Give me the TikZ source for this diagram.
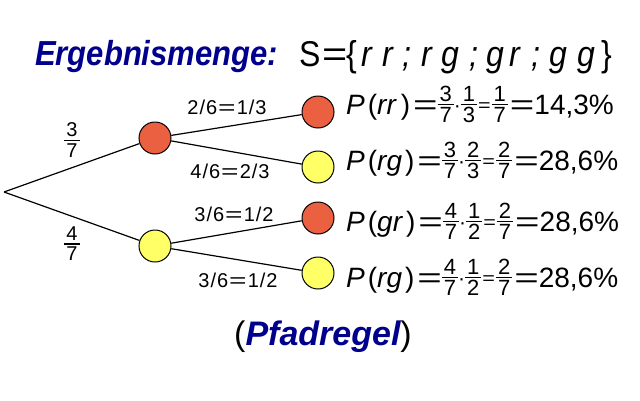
\documentclass[tikz,border=0pt]{standalone}
\usepackage{graphicx}
\usepackage{fontspec}
\setmainfont{Liberation Sans}
\definecolor{rball}{HTML}{EB6040}
\definecolor{yball}{HTML}{FFFF66}
\definecolor{navy}{HTML}{00008C}
% stacked fraction: size, rule thickness, numerator, denominator
\newcommand\frc[4]{\begingroup\fontsize{#1}{#1}\selectfont\vbox{\offinterlineskip\halign{\hfil##\hfil\cr\hspace{2pt}#3\hspace{2pt}\cr\noalign{\kern2.5pt\hrule height #2\kern2.5pt}#4\cr}}\endgroup}
\newcommand\pf[2]{\raisebox{-8.8pt}{\frc{22}{0.8pt}{#1}{#2}}}
\newcommand\ef[2]{\frc{20}{1.3pt}{#1}{#2}}
\newcommand\bigeq{\scalebox{1.5}[1]{=}}
\newcommand\smalleq{\raisebox{3pt}{\fontsize{18}{18}\selectfont\scalebox{1.2}[1]{=}}}
\newcommand\mdot{\raisebox{1.5pt}{\fontsize{21}{21}\selectfont·}}
\newcommand\mysl{\hspace{1pt}/\hspace{1pt}}
\newcommand\cb[2]{\makebox[#1pt][l]{#2}}
\tikzset{
  ball/.style={circle,draw=black,line width=1pt,minimum size=32pt,inner sep=0pt},
  red ball/.style={ball,fill=rball},
  yel ball/.style={ball,fill=yball},
  branch/.style={line width=1.2pt},
  elabel/.style={font=\fontsize{20}{22}\selectfont,inner sep=0pt},
  formula/.style={anchor=base west,inner sep=0pt,font=\fontsize{28}{30}\selectfont},
  every node/.style={inner sep=0pt}
}
\begin{document}
\begin{tikzpicture}[x=1pt,y=-1pt]
\useasboundingbox (0,0) rectangle (640,400);
% title
\node[anchor=base west,font=\fontsize{31}{36}\selectfont\bfseries\itshape,text=navy] (title) at (35,65) {\scalebox{1}[1.12]{Ergebnismenge:}};
\node[anchor=base west,font=\fontsize{32}{36}\selectfont] (set) at (299,66) {\scalebox{1}[1.12]{\cb{23}{S}\cb{24}{\scalebox{1.35}[1]{=}}\cb{15}{\{}\itshape\cb{21}{r}\cb{20}{r}\cb{19}{;}\cb{20}{r}\cb{28}{g}\cb{17}{;}\cb{23}{g}\cb{22}{r}\cb{18}{;}\cb{28}{g}\cb{24}{g}\upshape\}}};
% tree
\coordinate (root) at (4,192);
\node[red ball] (r1) at (155,138) {};
\node[yel ball] (g1) at (155,246) {};
\node[red ball] (rr) at (318,112) {};
\node[yel ball] (rg) at (318,167) {};
\node[red ball] (gr) at (318,218) {};
\node[yel ball] (gg) at (318,273) {};
\draw[branch] (root) -- (r1);
\draw[branch] (root) -- (g1);
\draw[branch] (r1) -- (rr);
\draw[branch] (r1) -- (rg);
\draw[branch] (g1) -- (gr);
\draw[branch] (g1) -- (gg);
% edge labels
\node[elabel] (l1) at (72,140) {\ef37};
\node[elabel] (l2) at (72,244) {\ef47};
\node[elabel] (l3) at (227,107) {2\mysl6\hspace{1pt}\bigeq\hspace{1pt}1\mysl3};
\node[elabel] (l4) at (230,171) {4\mysl6\hspace{1pt}\bigeq\hspace{1pt}2\mysl3};
\node[elabel] (l5) at (234,214) {3\mysl6\hspace{1pt}\bigeq\hspace{1pt}1\mysl2};
\node[elabel] (l6) at (238,280) {3\mysl6\hspace{1pt}\bigeq\hspace{1pt}1\mysl2};
% formulas
\node[formula] (f1) at (346,114) {\textit{P}\hspace{3pt}(\textit{rr}\hspace{4pt})\hspace{3pt}\bigeq\pf37\mdot\pf13\hspace{1pt}\smalleq\hspace{1pt}\pf17\hspace{2pt}\bigeq14,3\%};
\node[formula] (f2) at (346,170) {\textit{P}\hspace{3pt}(\textit{rg}\hspace{3pt})\hspace{3pt}\bigeq\pf37\mdot\pf23\hspace{1pt}\smalleq\hspace{1pt}\pf27\hspace{2pt}\bigeq28,6\%};
\node[formula] (f3) at (346,231) {\textit{P}\hspace{3pt}(\textit{gr}\hspace{3pt})\hspace{3pt}\bigeq\pf47\mdot\pf12\hspace{1pt}\smalleq\hspace{1pt}\pf27\hspace{2pt}\bigeq28,6\%};
\node[formula] (f4) at (346,287) {\textit{P}\hspace{3pt}(\textit{rg}\hspace{3pt})\hspace{3pt}\bigeq\pf47\mdot\pf12\hspace{1pt}\smalleq\hspace{1pt}\pf27\hspace{2pt}\bigeq28,6\%};
% rule
\node[anchor=base,font=\fontsize{34}{38}\selectfont] (rule) at (323,345) {(\textcolor{navy}{\bfseries\itshape Pfadregel})};
\end{tikzpicture}
\end{document}
